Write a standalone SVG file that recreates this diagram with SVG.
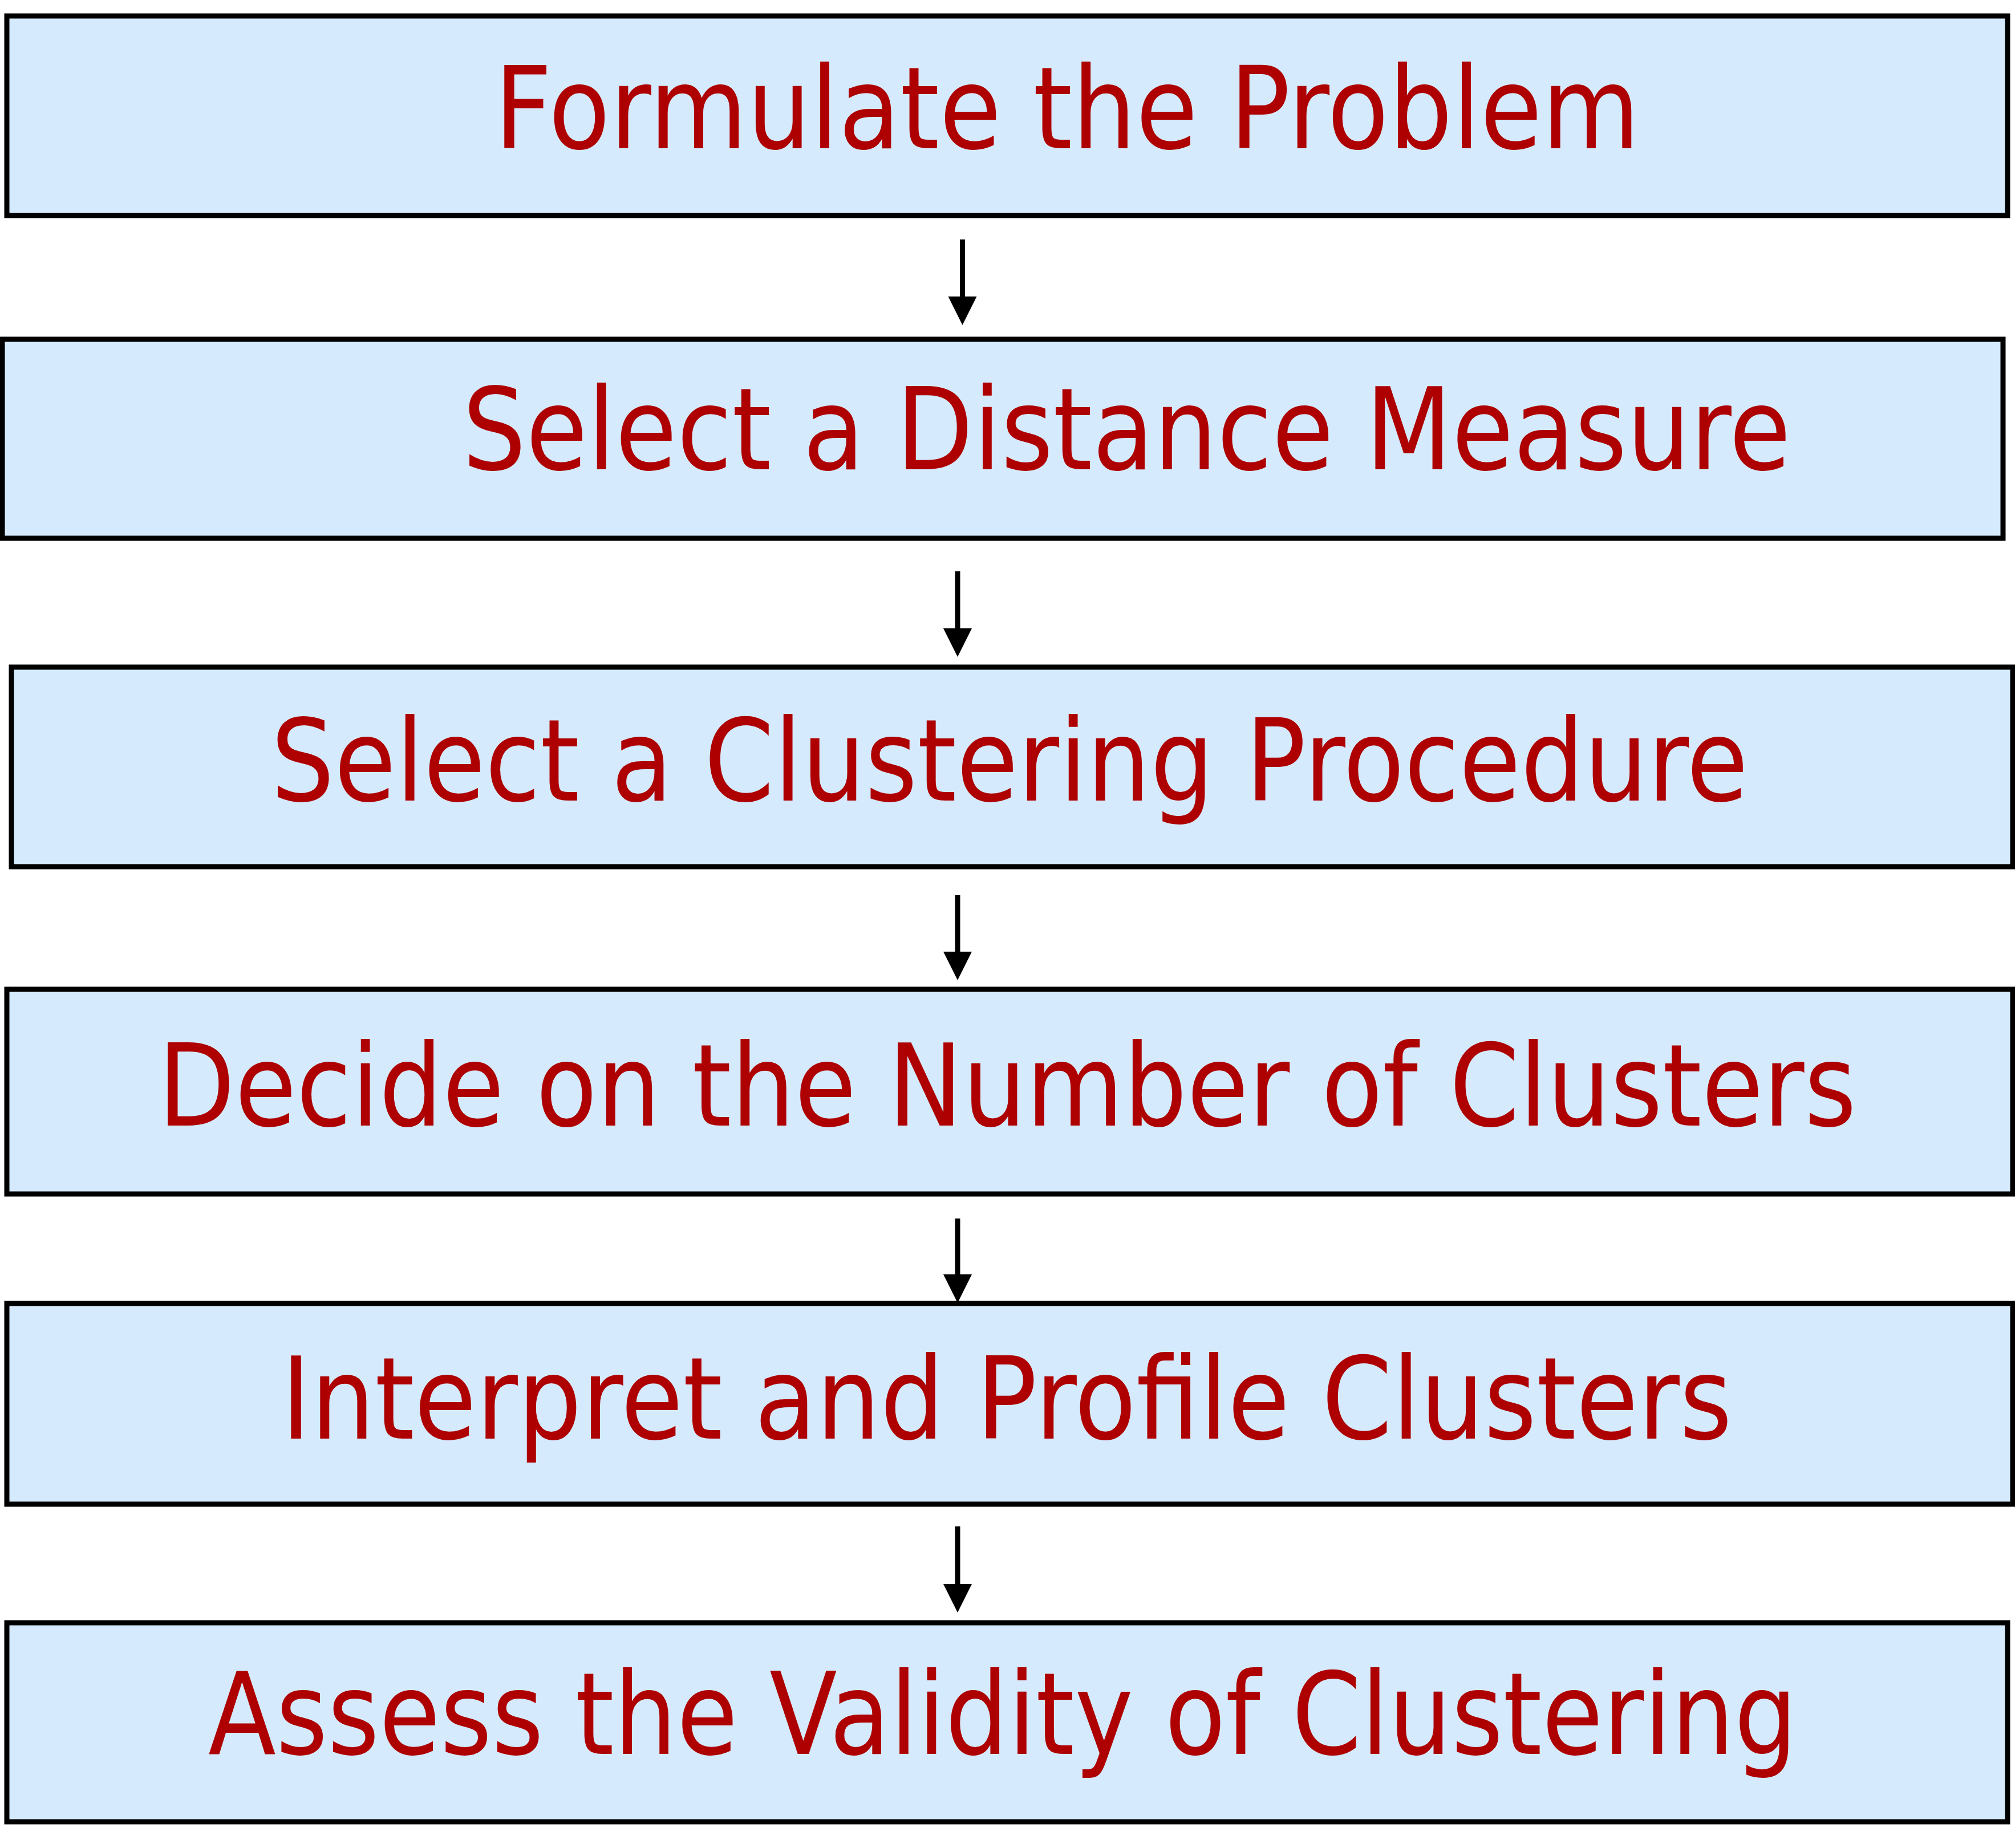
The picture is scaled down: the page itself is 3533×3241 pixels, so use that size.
<svg xmlns="http://www.w3.org/2000/svg" width="3533" height="3241" viewBox="0 0 3533 3241">
<style>
.box{fill:#D5EAFD;stroke:#000;stroke-width:9}
.lbl{font-family:"DejaVu Sans","Liberation Sans",sans-serif;font-size:200px;fill:#AE0000}
.con{stroke:#000;stroke-width:9;fill:none}
.head{fill:#000}
</style>
<rect width="3533" height="3241" fill="#fff"/>
<g id="n1"><rect class="box" x="12" y="28" width="3508" height="350"/><text class="lbl" x="867" y="260" textLength="2008" lengthAdjust="spacingAndGlyphs">Formulate the Problem</text></g>
<g id="n2"><rect class="box" x="4" y="595" width="3508" height="349"/><text class="lbl" x="811" y="823" textLength="2329" lengthAdjust="spacingAndGlyphs">Select a Distance Measure</text></g>
<g id="n3"><rect class="box" x="20" y="1170" width="3509" height="350"/><text class="lbl" x="475" y="1404" textLength="2590" lengthAdjust="spacingAndGlyphs">Select a Clustering Procedure</text></g>
<g id="n4"><rect class="box" x="12" y="1735" width="3517" height="359"/><text class="lbl" x="277" y="1974" textLength="2978" lengthAdjust="spacingAndGlyphs">Decide on the Number of Clusters</text></g>
<g id="n5"><rect class="box" x="12" y="2286" width="3517" height="352"/><text class="lbl" x="493" y="2523" textLength="2544" lengthAdjust="spacingAndGlyphs">Interpret and Profile Clusters</text></g>
<g id="n6"><rect class="box" x="12" y="2846" width="3508" height="349"/><text class="lbl" x="365" y="3076" textLength="2786" lengthAdjust="spacingAndGlyphs">Assess the Validity of Clustering</text></g>
<g id="connectors">
<line class="con" x1="1687.5" y1="420" x2="1687.5" y2="522"/><polygon class="head" points="1662.5,520 1712.5,520 1687.5,570"/>
<line class="con" x1="1679" y1="1002" x2="1679" y2="1104"/><polygon class="head" points="1654,1102 1704,1102 1679,1152"/>
<line class="con" x1="1679" y1="1570" x2="1679" y2="1671"/><polygon class="head" points="1654,1669 1704,1669 1679,1719"/>
<line class="con" x1="1679" y1="2137" x2="1679" y2="2237"/><polygon class="head" points="1654,2235 1704,2235 1679,2285"/>
<line class="con" x1="1679" y1="2677" x2="1679" y2="2780"/><polygon class="head" points="1654,2778 1704,2778 1679,2828"/>
</g>
</svg>
